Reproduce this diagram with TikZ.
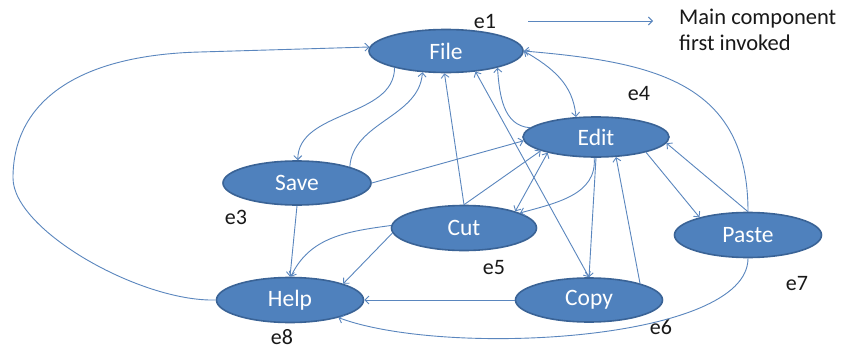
\documentclass[tikz,border=0pt]{standalone}
\usepackage{fontspec}
\setmainfont{Carlito}
\usetikzlibrary{shapes.geometric,arrows.meta}
\definecolor{nodefill}{HTML}{4F81BD}
\definecolor{nodeedge}{HTML}{3A6396}
\definecolor{linkblue}{HTML}{5A86BE}
\tikzset{
  barb/.tip={Straight Barb[length=4pt,width=8pt]},
  comp/.style={ellipse, draw=nodeedge, line width=1.6pt, fill=nodefill,
    text=white, inner sep=0pt, font=\fontsize{23.5}{23.5}\selectfont},
  link/.style={draw=linkblue, line width=0.9pt, -barb},
  twoway/.style={link, barb-barb},
  tag/.style={font=\fontsize{22}{22}\selectfont, text=black!90, inner sep=0pt},
  note/.style={font=\fontsize{22.5}{26}\selectfont, text=black!90, inner sep=0pt, align=left},
}
\begin{document}
\begin{tikzpicture}[x=1pt,y=-1pt]
\fill[white] (0,0) rectangle (844,351);
\useasboundingbox (0,0) rectangle (844,351);

% components
\node[comp, minimum width=154pt, minimum height=43pt] (file)  at (446,51)  {File};
\node[comp, minimum width=146pt, minimum height=40pt] (edit)  at (596,137) {Edit};
\node[comp, minimum width=148pt, minimum height=44pt] (save)  at (297,183) {Save};
\node[comp, minimum width=145pt, minimum height=45pt] (cut)   at (464,228) {Cut};
\node[comp, minimum width=147pt, minimum height=45pt] (paste) at (748,235) {Paste};
\node[comp, minimum width=147pt, minimum height=45pt] (help)  at (290,300) {Help};
\node[comp, minimum width=147pt, minimum height=44pt] (copy)  at (589,300) {Copy};

% edge labels
\node[tag] (e1) at (485,21) {e1};
\node[tag] (e3) at (236,217) {e3};
\node[tag] (e4) at (639,94) {e4};
\node[tag] (e5) at (494,268) {e5};
\node[tag] (e6) at (661,327) {e6};
\node[tag] (e7) at (797,284) {e7};
\node[tag] (e8) at (282,337) {e8};
\node[note, anchor=north west] (main) at (679,9) {Main component\\first invoked};
\draw[link, shorten <=32pt, shorten >=26pt] (e1.east) -- (e1.east -| main.west);

% connectors
\draw[link] (help.west) .. controls (140,302) and (13,230) .. (13,178)
  .. controls (13,100) and (80,55) .. (200,52) -- (file.177);
\draw[link] (file.198) .. controls +(0,50) and +(0,-50) .. (save.88);
\draw[link] (save.17) .. controls +(3,-45) and +(-3,45) .. (file.222);
\draw[link] (save.east) -- (edit.183);
\draw[link] (cut.north) -- (file.266);
\draw[twoway] (file.325) -- (copy.north);
\draw[twoway] (file.east) .. controls +(29,17) and +(-3,-33) .. (edit.135);
\draw[link] (paste.north) .. controls +(0,-130) and +(130,11) .. (file.east);
\draw[link] (paste.north) -- (edit.355);
\draw[link] (edit.343) -- (paste.160);
\draw[link] (edit.265) .. controls +(3,37) and +(36,-10) .. (cut.15);
\draw[link] (cut.north) -- (edit.194);
\draw[twoway] (cut.18) -- (edit.198);
\draw[link] (edit.south) -- (copy.north);
\draw[link] (copy.18) -- (edit.315);
\draw[link] (save.south) -- (help.north);
\draw[link] (cut.178) .. controls +(-44,6) and +(19,-40) .. (help.88);
\draw[link] (cut.184) -- (help.17);
\draw[link] (copy.west) -- (help.east);
\draw[link] (paste.south) .. controls +(0,83) and +(108,40) .. (help.340);
\draw[link] (edit.172) .. controls +(-27,-2) and +(2,27) .. (file.342);
\end{tikzpicture}
\end{document}
